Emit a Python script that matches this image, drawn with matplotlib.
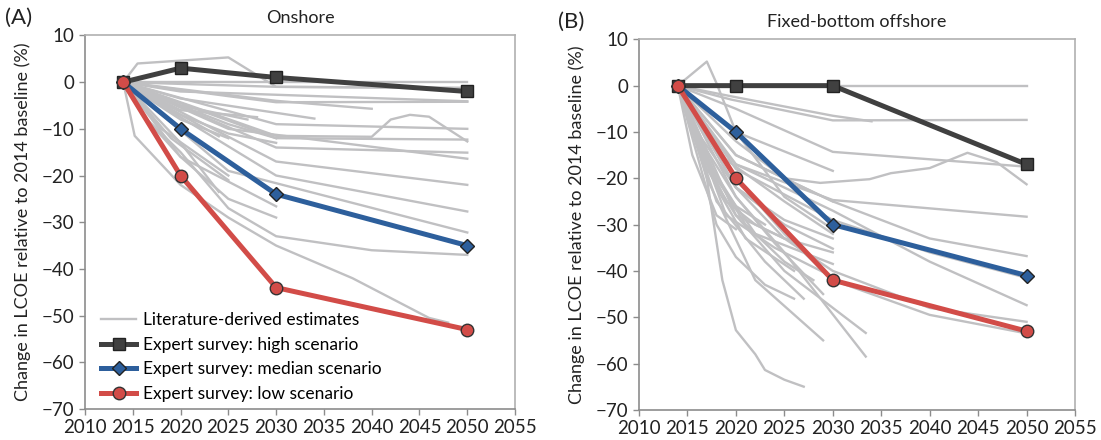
import numpy as np
import matplotlib.pyplot as plt

# expert survey scenarios (years 2014, 2020, 2030, 2050)
survey_years = [2014, 2020, 2030, 2050]
on_high = [0, 3, 1, -2]
on_median = [0, -10, -24, -35]
on_low = [0, -20, -44, -53]
off_high = [0, 0, 0, -17]
off_median = [0, -10, -30, -41]
off_low = [0, -20, -42, -53]

# literature-derived estimates (years, values)
on_lit = [
    ([2014, 2015.5, 2025, 2030, 2050], [0, 4, 5.3, -1, -1.2]),
    ([2014, 2050], [0, 0]),
    ([2014, 2030, 2050], [0, -1, -1.3]),
    ([2014, 2020, 2050], [0, -2, -4.1]),
    ([2014, 2025, 2030, 2050], [0, -3, -4.3, -4.2]),
    ([2014, 2030, 2040], [0, -4, -5.7]),
    ([2014, 2020, 2034], [0, -3.5, -7.8]),
    ([2014, 2030, 2050], [0, -9, -10]),
    ([2014, 2030, 2040, 2042, 2044, 2046, 2050], [0, -11.5, -11.7, -8, -7, -7.4, -12.7]),
    ([2014, 2030, 2050], [0, -12, -12.3]),
    ([2014, 2030, 2050], [0, -14, -15.1]),
    ([2014, 2025, 2050], [0, -10, -16.4]),
    ([2014, 2030, 2050], [0, -17, -22]),
    ([2014, 2030, 2050], [0, -20, -27.7]),
    ([2014, 2025, 2050], [0, -19, -32.2]),
    ([2014, 2016, 2020, 2025, 2030, 2040, 2050], [0, -7, -15, -27, -33, -36, -37]),
    ([2014, 2015.2, 2020, 2025, 2030, 2038, 2046, 2048], [0, -11.5, -22, -29, -35, -42, -50.5, -51.5]),
    ([2014, 2020, 2025], [0, -8, -12]),
    ([2014, 2020, 2027], [0, -5, -8]),
    ([2014, 2024], [0, -11.6]),
    ([2014, 2020, 2024], [0, -13, -23.5]),
    ([2014, 2020, 2030], [0, -16, -26.6]),
    ([2014, 2016, 2020, 2025, 2030], [0, -7, -16, -25, -29]),
    ([2014, 2018, 2025], [0, -10, -20]),
    ([2014, 2020, 2025, 2030], [0, -5, -9, -12]),
    ([2014, 2020, 2028], [0, -6, -7.5]),
    ([2014, 2020, 2025, 2030], [0, -7, -11, -13]),
    ([2014, 2019, 2025], [0, -12, -21]),
]

off_lit = [
    ([2014, 2050], [0, 0]),
    ([2014, 2017, 2018, 2020, 2025, 2030], [0, 5.2, 0.5, -10, -24, -31]),
    ([2014, 2019.5, 2030, 2050], [0, -3, -7.5, -7.4]),
    ([2014, 2020, 2030, 2034], [0, -2.5, -6.5, -7.7]),
    ([2014, 2020, 2030, 2050], [0, -5, -14.3, -17.5]),
    ([2014, 2018, 2020, 2025, 2028.7, 2033.8, 2036, 2040, 2043.9, 2046.9, 2050],
     [0, -10, -15, -20, -21, -20.2, -18.9, -17.8, -14.5, -16.5, -21.3]),
    ([2014, 2020, 2030], [0, -10, -18.4]),
    ([2014, 2018, 2020, 2030, 2050], [0, -12, -17, -24.7, -28.3]),
    ([2014, 2020, 2030, 2040, 2050], [0, -15, -25, -33, -36.8]),
    ([2014, 2020, 2030, 2040, 2050], [0, -18, -29, -36, -41.5]),
    ([2014, 2020, 2030, 2040, 2050], [0, -17, -27, -38, -47.4]),
    ([2014, 2020, 2025, 2030, 2040, 2050], [0, -22, -33, -40, -48, -51]),
    ([2014, 2020, 2025, 2030, 2040, 2050], [0, -20, -32, -42, -49.5, -53.5]),
    ([2014, 2015.5, 2017, 2018.6, 2020, 2022, 2023, 2025, 2027],
     [0, -8, -20, -42, -52.8, -58, -61.4, -63.5, -65]),
    ([2014, 2017, 2022, 2029], [0, -20, -42, -55]),
    ([2014, 2018, 2023, 2027], [0, -25, -38, -46]),
    ([2014, 2020, 2025, 2033.4], [0, -28, -40, -53.4]),
    ([2014, 2020, 2025, 2033.4], [0, -24, -36, -58.5]),
    ([2014, 2020, 2025, 2030], [0, -22, -30, -35.2]),
    ([2014, 2018, 2022, 2030], [0, -20, -32, -38.5]),
    ([2014, 2019, 2024, 2030], [0, -28, -35, -41.3]),
    ([2014, 2016, 2018, 2020, 2023, 2026], [0, -15, -30, -37, -43, -46]),
    ([2014, 2017, 2020, 2025, 2030], [0, -18, -28, -33, -36]),
    ([2014, 2016, 2019, 2022, 2025], [0, -12, -25, -30, -33]),
    ([2014, 2018, 2021, 2025, 2028], [0, -20, -30, -38, -42]),
    ([2014, 2015.5, 2018, 2020], [0, -15, -28, -31]),
    ([2014, 2017, 2020, 2024, 2029], [0, -14, -24, -34, -45]),
    ([2014, 2019, 2025, 2030], [0, -16, -25, -32]),
    ([2014, 2020, 2025, 2030], [0, -12, -20, -25]),
    ([2014, 2016, 2020, 2025, 2030], [0, -10, -22, -29, -33]),
    ([2014, 2017, 2020, 2023], [0, -16, -26, -30]),
    ([2014, 2018, 2021, 2026], [0, -22, -33, -40]),
]

plt.rcParams['font.family'] = ['Lato', 'DejaVu Sans']
plt.rcParams['font.size'] = 12

GRAY = '#c0c0c2'
C_HIGH = '#404040'
C_MED = '#2d5f9c'
C_LOW = '#d24c48'

fig = plt.figure(figsize=(11.01, 4.40), dpi=100)
axA = fig.add_axes([0.0772, 0.0705, 0.3906, 0.8489])
axB = fig.add_axes([0.5804, 0.0686, 0.396, 0.842])


def draw(ax, lit, high, med, low, title, tag):
    for i, (yrs, vals) in enumerate(lit):
        ax.plot(yrs, vals, color=GRAY, lw=1.7, zorder=2,
                label='Literature-derived estimates' if i == 0 else None)
    ax.plot(survey_years, high, color=C_HIGH, lw=3.6, marker='s', ms=9,
            mfc=C_HIGH, mec='#222222', mew=1, zorder=4,
            label='Expert survey: high scenario')
    ax.plot(survey_years, med, color=C_MED, lw=3.6, marker='D', ms=7.5,
            mfc=C_MED, mec='#222222', mew=1, zorder=5,
            label='Expert survey: median scenario')
    ax.plot(survey_years, low, color=C_LOW, lw=3.6, marker='o', ms=9,
            mfc=C_LOW, mec='#333333', mew=1, zorder=6,
            label='Expert survey: low scenario')
    ax.set_xlim(2010, 2055)
    ax.set_ylim(-70, 10)
    ax.set_xticks(np.arange(2010, 2056, 5))
    ax.set_yticks(np.arange(-70, 11, 10))
    ax.set_yticklabels([str(v).replace('-', '\u2212') for v in range(-70, 11, 10)])
    for s in ['left', 'bottom']:
        ax.spines[s].set_color('#8c8c8c')
        ax.spines[s].set_linewidth(1.2)
    for s in ['top', 'right']:
        ax.spines[s].set_color('#b0b0b0')
        ax.spines[s].set_linewidth(1.2)
    ax.tick_params(direction='out', length=4, width=1, color='#8c8c8c',
                   labelsize=13.5, labelcolor='#222222')
    ax.set_ylabel('Change in LCOE relative to 2014 baseline (%)', fontsize=13,
                  color='#222222', labelpad=8)
    ax.set_title(title, fontsize=13, color='#222222', pad=9)
    ax.text(-0.185, 1.02, tag, transform=ax.transAxes, fontsize=16,
            color='#222222', va='bottom')


draw(axA, on_lit, on_high, on_median, on_low, 'Onshore', '(A)')
draw(axB, off_lit, off_high, off_median, off_low, 'Fixed-bottom offshore', '(B)')

axA.legend(loc='lower left', bbox_to_anchor=(0.018, -0.005), frameon=False,
           fontsize=12.5, handlelength=2.0, handletextpad=0.4,
           labelspacing=0.5, borderaxespad=0.1)

fig.savefig('out.png', dpi=100)
